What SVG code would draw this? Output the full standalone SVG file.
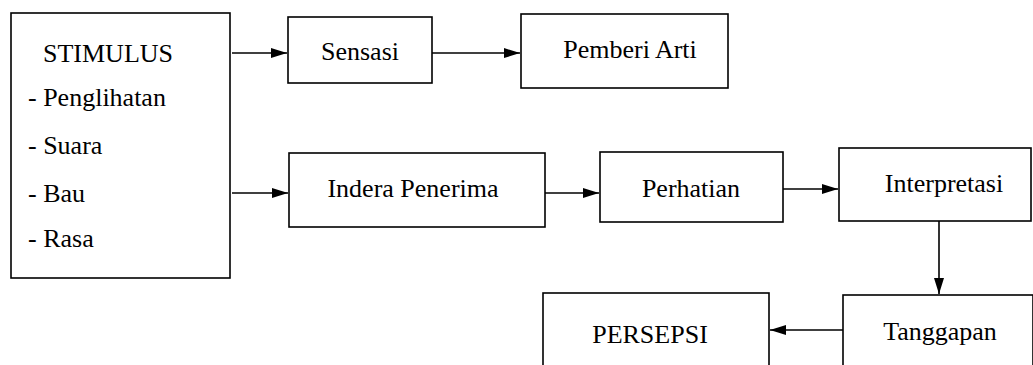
<svg xmlns="http://www.w3.org/2000/svg" width="1033" height="365" viewBox="0 0 1033 365">
<style>
.box{fill:#fff;stroke:#000;stroke-width:1.6}
.t{font-family:"Liberation Serif","Times New Roman",serif;font-size:26px;fill:#000}
.c{text-anchor:middle}
.edge{stroke:#000;stroke-width:1.6;fill:none}
</style>
<defs>
<marker id="ah" markerWidth="16" markerHeight="10" refX="16" refY="5" orient="auto" markerUnits="userSpaceOnUse">
<path d="M0,0 L16,5 L0,10 Z" fill="#000"/>
</marker>
</defs>
<rect width="1033" height="365" fill="#fff"/>
<g id="connectors">
<line class="edge" x1="232" y1="53" x2="287" y2="53" marker-end="url(#ah)"/>
<line class="edge" x1="432" y1="53" x2="520" y2="53" marker-end="url(#ah)"/>
<line class="edge" x1="232" y1="193" x2="288" y2="193" marker-end="url(#ah)"/>
<line class="edge" x1="545" y1="193" x2="599" y2="193" marker-end="url(#ah)"/>
<line class="edge" x1="783" y1="189" x2="838" y2="189" marker-end="url(#ah)"/>
<line class="edge" x1="939" y1="221" x2="939" y2="294" marker-end="url(#ah)"/>
<line class="edge" x1="843" y1="330" x2="770" y2="330" marker-end="url(#ah)"/>
</g>
<g id="stimulus">
<rect class="box" x="11" y="13" width="219" height="265"/>
<text class="t" x="43" y="62">STIMULUS</text>
<text class="t" x="28" y="106">- Penglihatan</text>
<text class="t" x="28" y="154">- Suara</text>
<text class="t" x="28" y="202">- Bau</text>
<text class="t" x="28" y="247">- Rasa</text>
</g>
<g id="sensasi">
<rect class="box" x="288" y="17" width="144" height="66"/>
<text class="t c" x="360" y="60">Sensasi</text>
</g>
<g id="pemberi-arti">
<rect class="box" x="521" y="14" width="207" height="74"/>
<text class="t c" x="630" y="58">Pemberi Arti</text>
</g>
<g id="indera-penerima">
<rect class="box" x="289" y="153" width="256" height="74"/>
<text class="t c" x="413" y="197">Indera Penerima</text>
</g>
<g id="perhatian">
<rect class="box" x="600" y="152" width="183" height="70"/>
<text class="t c" x="691" y="197">Perhatian</text>
</g>
<g id="interpretasi">
<rect class="box" x="839" y="148" width="192" height="73"/>
<text class="t c" x="944" y="192">Interpretasi</text>
</g>
<g id="tanggapan">
<rect class="box" x="843" y="295" width="190" height="80"/>
<text class="t c" x="940" y="340">Tanggapan</text>
</g>
<g id="persepsi">
<rect class="box" x="543" y="293" width="226" height="80"/>
<text class="t c" x="650" y="343">PERSEPSI</text>
</g>
</svg>
